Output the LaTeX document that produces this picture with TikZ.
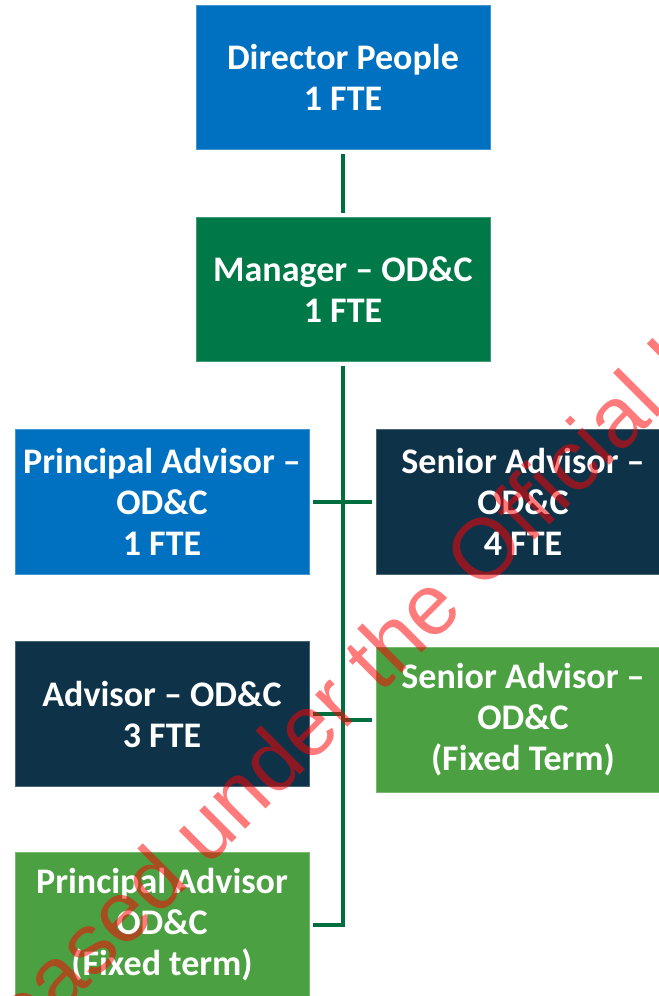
\documentclass[tikz,border=0pt]{standalone}
\usepackage{fontspec}
\setsansfont{Carlito}
\newfontfamily\wmfont{Liberation Sans}
\usepackage{xcolor}

\begin{document}
\begin{tikzpicture}[x=0.75pt, y=0.75pt, inner sep=0pt]

    % style
    \definecolor{myblue}{RGB}{0, 112, 192}
    \definecolor{mygreen}{RGB}{0, 120, 71}
    \definecolor{mynavy}{RGB}{14, 51, 73}
    \definecolor{mylightgreen}{RGB}{75, 161, 65}
    \definecolor{mylinegreen}{RGB}{0, 110, 62}
    \tikzset{role/.style={rectangle, fill=#1, draw=#1!75!white, line width=0.6pt, text=white, align=center, minimum width=220.5pt, minimum height=108.5pt, outer sep=3pt, font=\sffamily\bfseries\fontsize{27}{30.75}\selectfont}}
    \tikzset{link/.style={draw=mylinegreen, line width=2.3pt}}
    \tikzset{wmark/.style={text=red, text opacity=0.52, font=\wmfont\fontsize{64.5}{70}\selectfont, inner sep=0pt}}

    % page size
    \useasboundingbox (0,0) rectangle (659,-996);
    \clip (0,0) rectangle (659,-996);

    % top of the chart
    \node [role=myblue] (director) at (343,-77.5) {Director People\\1 FTE};
    \node [role=mygreen] (manager) at (343,-289.5) {Manager -- OD\&C\\1 FTE};

    % advisors, left and right of the trunk
    \node [role=myblue] (principal) at (162,-502) {Principal Advisor --\\OD\&C\\1 FTE};
    \node [role=mynavy] (senior) at (523,-502) {Senior Advisor --\\OD\&C\\4 FTE};
    \node [role=mynavy] (advisor) at (162,-714) {Advisor -- OD\&C\\3 FTE};
    \node [role=mylightgreen] (seniorfixed) at (523,-720) {Senior Advisor --\\OD\&C\\(Fixed Term)};
    \node [role=mylightgreen] (principalfixed) at (162,-925) {Principal Advisor\\OD\&C\\(Fixed term)};

    % connectors
    \coordinate (trunkend) at (manager.south |- principalfixed.east);
    \draw [link] (director) -- (manager);
    \draw [link] (manager.south) -- (trunkend) -- (principalfixed);
    \draw [link] (principal) -- (senior);
    \draw [link] (advisor) -- (advisor -| manager.south);
    \draw [link] (seniorfixed) -- (seniorfixed -| manager.south);

    % watermark
    \node [wmark, anchor=base west, rotate=45] (watermark) at (-66,-1141) {Released under the Official Information Act 1982};

\end{tikzpicture}
\end{document}
